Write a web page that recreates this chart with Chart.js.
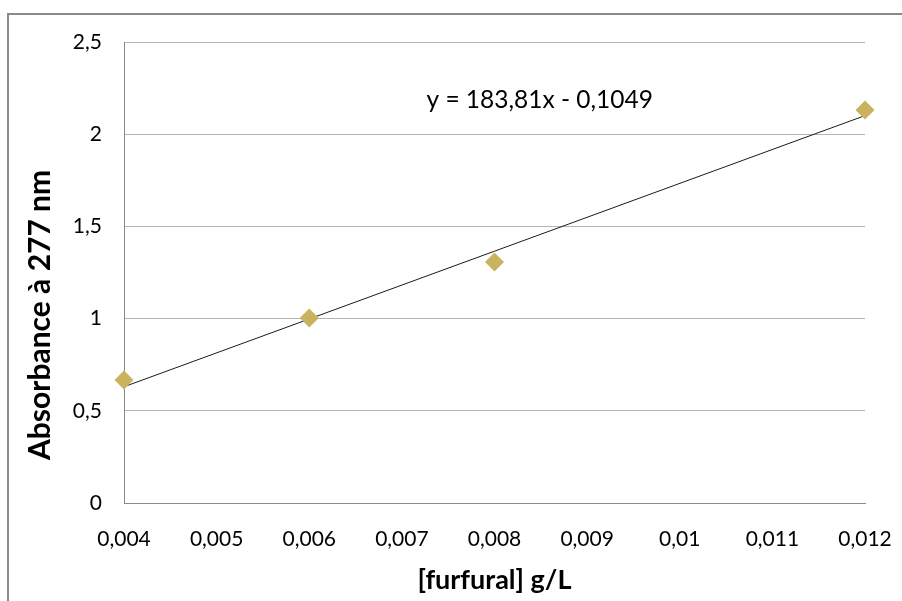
<!DOCTYPE html>
<html>
<head>
<meta charset="utf-8">
<script src="https://cdn.jsdelivr.net/npm/chart.js@4/dist/chart.umd.min.js"></script>
<style>
  html, body { margin: 0; padding: 0; background: #fff; overflow: hidden; }
  #wrap { position: relative; width: 902px; height: 601px; }
  #frame { position: absolute; left: 7px; top: 13px; width: 1000px; height: 1000px; border: 2px solid #8a8a8a; box-sizing: border-box; }
  canvas { position: absolute; left: 0; top: 0; }
</style>
</head>
<body>
<div id="wrap">
  <div id="frame"></div>
  <canvas id="c" width="902" height="601"></canvas>
</div>
<script>
// ---- data ----
const concentrations = [0.004, 0.006, 0.008, 0.012];
const absorbances = [0.667, 1.003, 1.307, 2.131];
const slope = 183.81;
const intercept = -0.1049;
const equationText = 'y = 183,81x - 0,1049';
const xTickLabels = ['0,004', '0,005', '0,006', '0,007', '0,008', '0,009', '0,01', '0,011', '0,012'];
const yTickLabels = ['0', '0,5', '1', '1,5', '2', '2,5'];
const xTitle = '[furfural] g/L';
const yTitle = 'Absorbance à 277 nm';

const xMin = 0.004, xMax = 0.012;
const trendPoints = [xMin, xMax].map(x => ({ x: x, y: slope * x + intercept }));
const scatterPoints = concentrations.map((x, i) => ({ x: x, y: absorbances[i] }));

const FONT = 'Lato, "Open Sans", sans-serif';

const textPlugin = {
  id: 'texts',
  afterDatasetsDraw(chart) {
    const { ctx, chartArea } = chart;
    const w = chartArea.right - chartArea.left;
    const h = chartArea.bottom - chartArea.top;
    ctx.save();
    ctx.fillStyle = '#000';
    ctx.textAlign = 'center';
    ctx.textBaseline = 'middle';
    // trendline equation
    ctx.font = '24.5px ' + FONT;
    ctx.fillText(equationText, chartArea.left + w * 0.561, chartArea.top + h * 0.125);
    // y-axis title
    ctx.font = 'bold 30px ' + FONT;
    ctx.translate(chartArea.left - 84, chartArea.top + h * 0.592);
    ctx.rotate(-Math.PI / 2);
    ctx.fillText(yTitle, 0, 0);
    ctx.restore();
  }
};

new Chart(document.getElementById('c'), {
  type: 'scatter',
  data: {
    datasets: [
      {
        type: 'line',
        data: trendPoints,
        borderColor: '#1a1a1a',
        borderWidth: 1,
        pointRadius: 0,
        fill: false,
        clip: false,
        order: 2
      },
      {
        type: 'scatter',
        data: scatterPoints,
        pointStyle: 'rectRot',
        pointRadius: 9.5,
        pointHoverRadius: 9.5,
        backgroundColor: '#C9B35F',
        borderWidth: 0,
        clip: false,
        order: 1
      }
    ]
  },
  options: {
    responsive: false,
    animation: false,
    devicePixelRatio: 1,
    layout: { padding: { left: 0, right: 37, top: 42, bottom: 0 } },
    plugins: { legend: { display: false }, tooltip: { enabled: false } },
    scales: {
      x: {
        type: 'linear',
        min: xMin,
        max: xMax,
        afterFit(scale) { scale.height = 98; scale.paddingLeft = 0; scale.paddingRight = 0; },
        afterBuildTicks(scale) {
          scale.ticks = xTickLabels.map((_, i) => ({ value: xMin + i * 0.001 }));
        },
        ticks: {
          autoSkip: false,
          maxRotation: 0,
          padding: 24,
          color: '#000',
          font: { family: FONT, size: 21 },
          callback: (v, i) => xTickLabels[i]
        },
        grid: { display: false, drawTicks: false },
        border: { display: true, color: '#8a8a8a', width: 1 },
        title: {
          display: true,
          text: xTitle,
          color: '#000',
          font: { family: FONT, size: 27, weight: 'bold' },
          padding: { top: 0, bottom: 5 }
        }
      },
      y: {
        type: 'linear',
        min: 0,
        max: 2.5,
        afterFit(scale) { scale.width = 124; scale.paddingTop = 0; scale.paddingBottom = 0; },
        afterBuildTicks(scale) {
          scale.ticks = yTickLabels.map((_, i) => ({ value: i * 0.5 }));
        },
        ticks: {
          padding: 22,
          color: '#000',
          font: { family: FONT, size: 21 },
          callback: (v, i) => yTickLabels[i]
        },
        grid: {
          drawTicks: false,
          color: (c) => c.tick && c.tick.value === 0 ? '#8a8a8a' : '#b4b4b4',
          lineWidth: 1
        },
        border: { display: true, color: '#8a8a8a', width: 1 },
        title: { display: false }
      }
    }
  },
  plugins: [textPlugin]
});
</script>
</body>
</html>
